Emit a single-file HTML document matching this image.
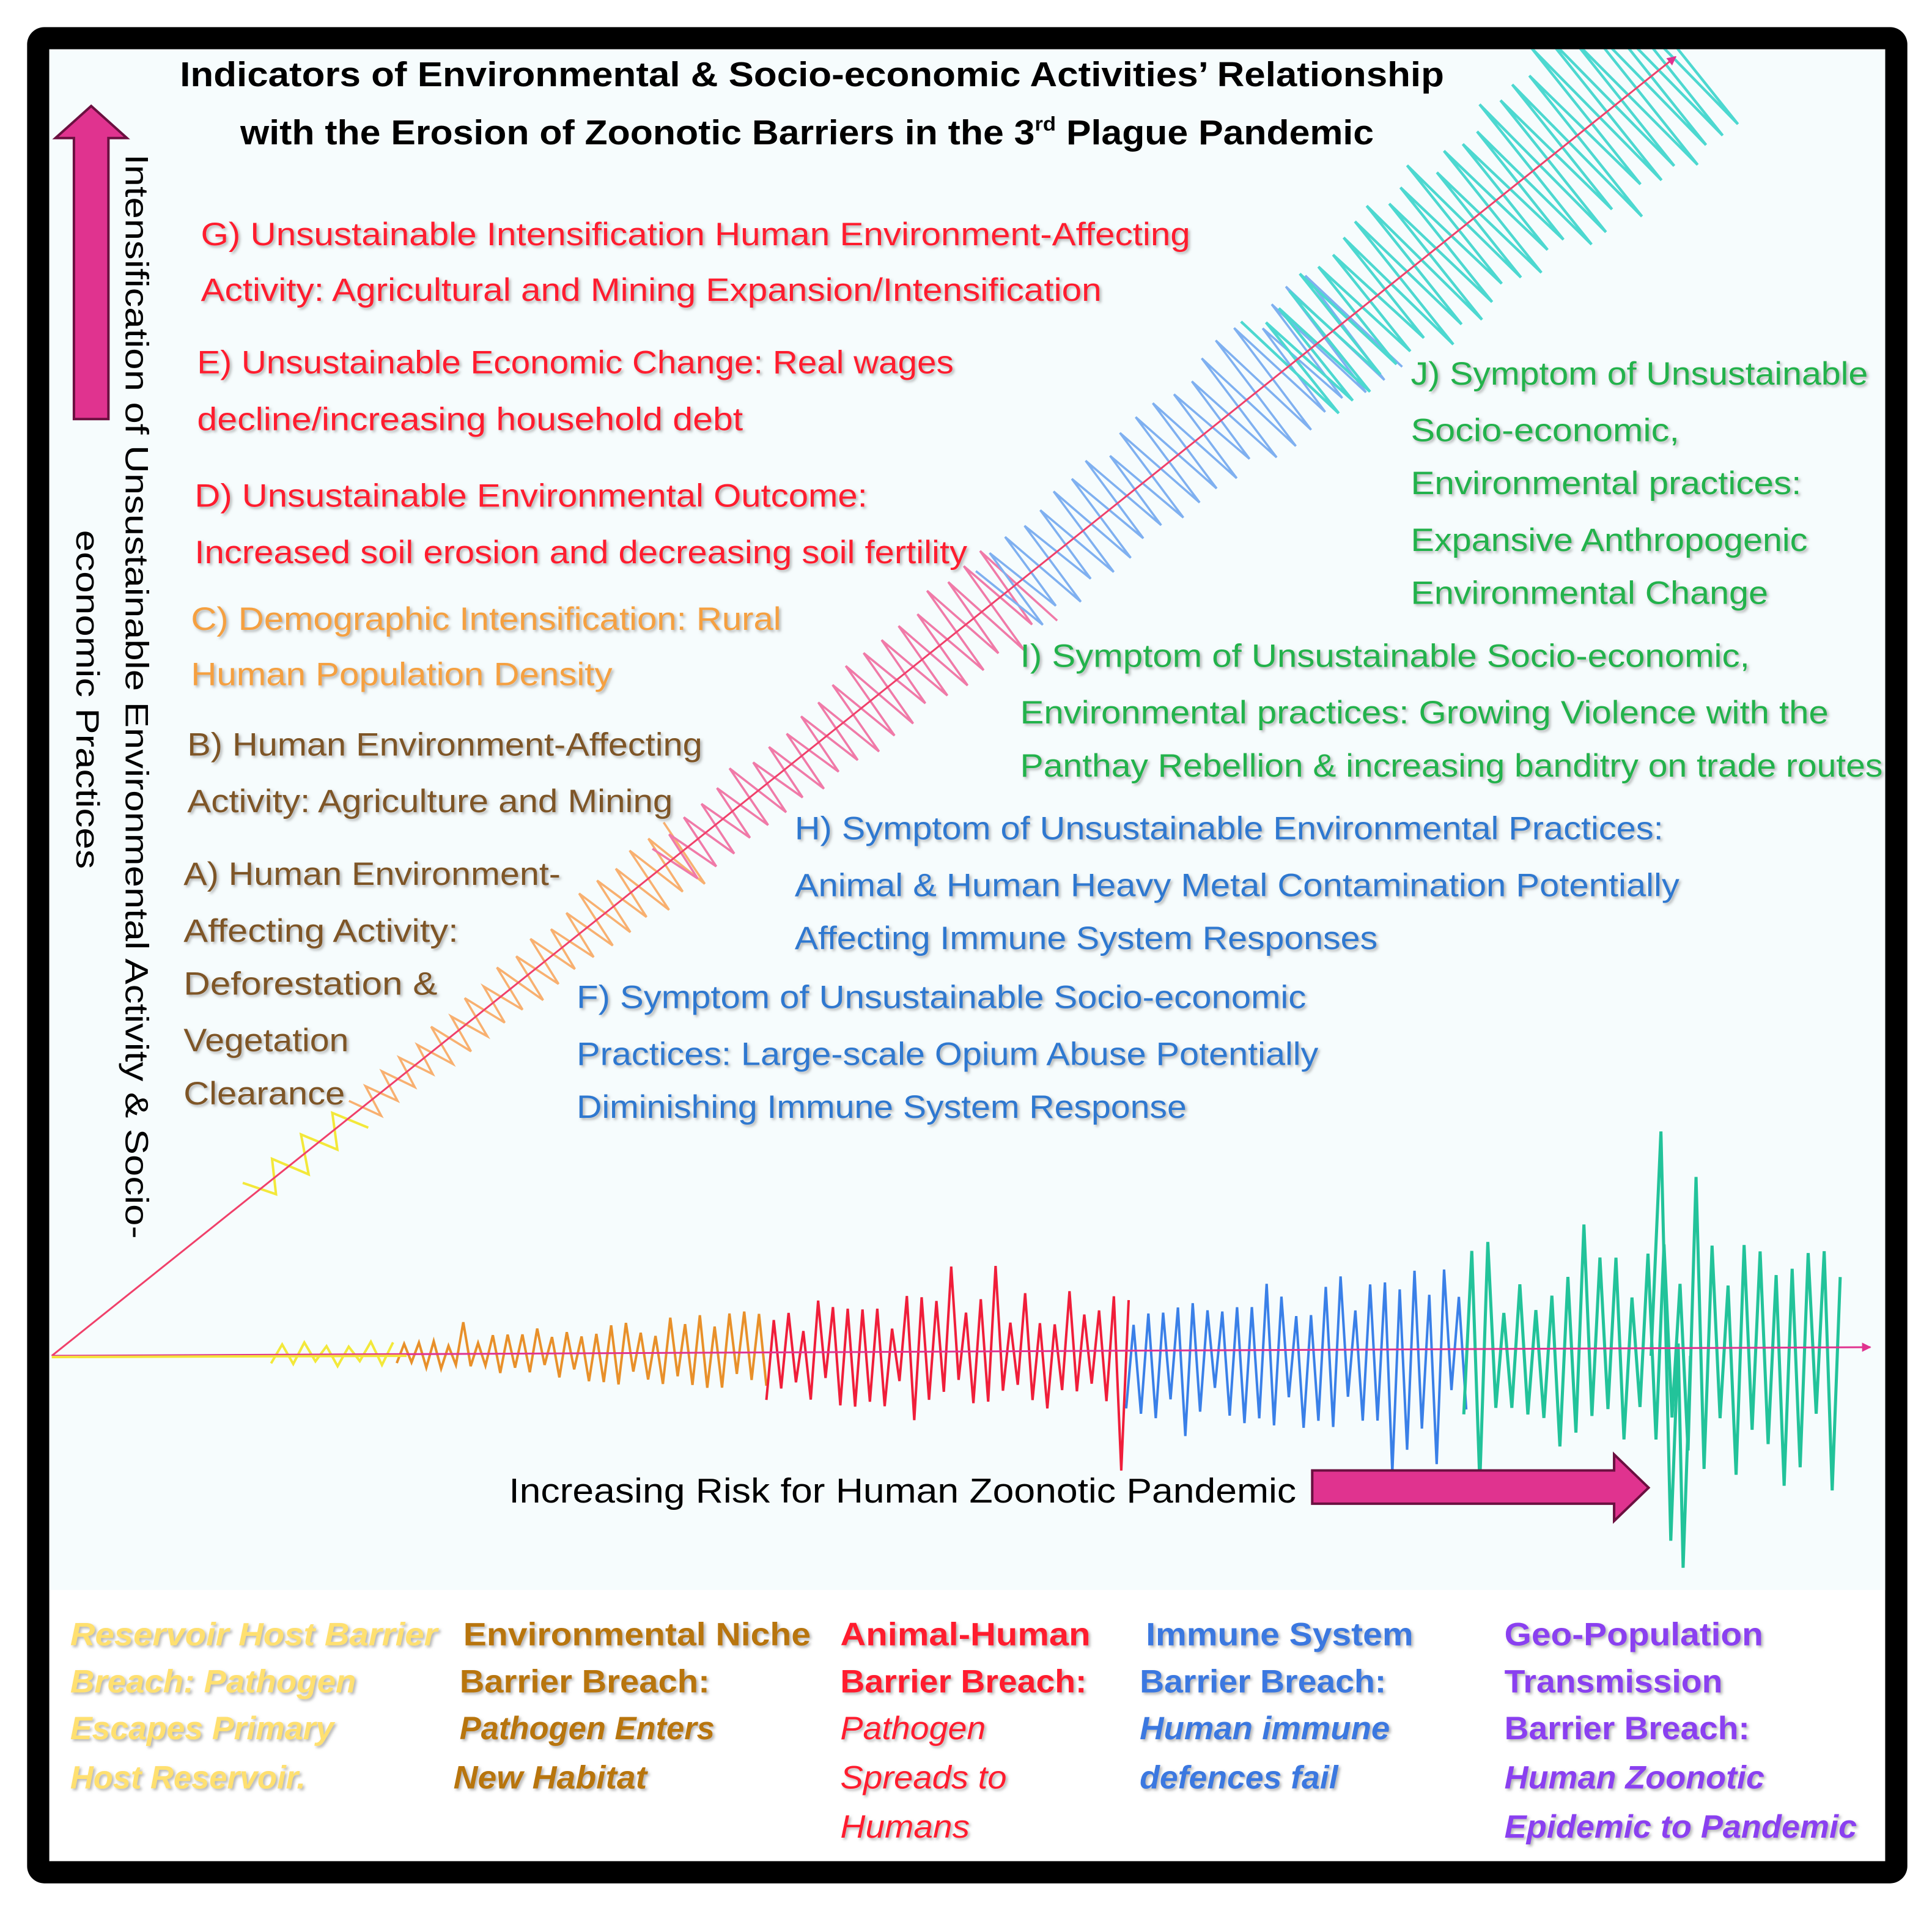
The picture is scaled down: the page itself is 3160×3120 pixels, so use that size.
<!DOCTYPE html>
<html><head><meta charset="utf-8">
<style>
html,body{margin:0;padding:0;background:#fff;}
svg{display:block;}
text{font-family:"Liberation Sans",sans-serif;}
</style></head>
<body>
<svg id="s" xmlns="http://www.w3.org/2000/svg" width="3160" height="3120" viewBox="0 0 1568 1548" preserveAspectRatio="none">
<defs>
<filter id="sh" x="-5%" y="-30%" width="110%" height="160%"><feDropShadow dx="1.5" dy="1.5" stdDeviation="1.2" flood-color="#777" flood-opacity="0.55"/></filter>
<marker id="ah" viewBox="0 0 10 10" refX="9" refY="5" markerWidth="5" markerHeight="5" orient="auto"><path d="M0,0 L10,5 L0,10 z" fill="#e0338f"/></marker>
<clipPath id="cp"><rect x="40" y="40" width="1490" height="1470"/></clipPath>
</defs>
<rect x="22" y="22" width="1526" height="1506" rx="14" fill="#000"/>
<rect x="40" y="40" width="1490" height="1470" fill="#fff"/>
<rect x="40" y="40" width="1490" height="1250" fill="#f6fcfd"/>

<g id="waves" clip-path="url(#cp)"></g>

<line x1="42" y1="1100" x2="1360" y2="46" stroke="#f0406a" stroke-width="1.5" marker-end="url(#ah)"/>
<line x1="42" y1="1100" x2="1518" y2="1093" stroke="#e0338f" stroke-width="1.5" marker-end="url(#ah)"/>
<line x1="42" y1="1101" x2="330" y2="1100" stroke="#f5e23a" stroke-width="2"/>

<text x="146" y="70" font-size="28" font-weight="bold" fill="#000" textLength="1026" lengthAdjust="spacingAndGlyphs">Indicators of Environmental &amp; Socio-economic Activities’ Relationship</text>
<text x="195" y="117" font-size="28" font-weight="bold" fill="#000" textLength="920" lengthAdjust="spacingAndGlyphs">with the Erosion of Zoonotic Barriers in the 3<tspan font-size="16" dy="-11">rd</tspan><tspan dy="11"> Plague Pandemic</tspan></text>

<path d="M60,340 L60,112 L45,112 L74,86 L103,112 L88,112 L88,340 Z" fill="#e0338f" stroke="#6b1040" stroke-width="2"/>
<text transform="translate(102,125) rotate(90)" font-size="26" fill="#000" textLength="880" lengthAdjust="spacingAndGlyphs">Intensification of Unsustainable Environmental Activity &amp; Socio-</text>
<text transform="translate(62,430) rotate(90)" font-size="26" fill="#000" textLength="275" lengthAdjust="spacingAndGlyphs">economic Practices</text>

<g filter="url(#sh)" font-size="26">
<g fill="#ff1a2e">
<text x="163" y="199" textLength="803" lengthAdjust="spacingAndGlyphs">G) Unsustainable Intensification Human Environment-Affecting</text>
<text x="163" y="244" textLength="731" lengthAdjust="spacingAndGlyphs">Activity: Agricultural and Mining Expansion/Intensification</text>
<text x="160" y="303" textLength="614" lengthAdjust="spacingAndGlyphs">E) Unsustainable Economic Change: Real wages</text>
<text x="160" y="349" textLength="443" lengthAdjust="spacingAndGlyphs">decline/increasing household debt</text>
<text x="158" y="411" textLength="546" lengthAdjust="spacingAndGlyphs">D) Unsustainable Environmental Outcome:</text>
<text x="158" y="457" textLength="627" lengthAdjust="spacingAndGlyphs">Increased soil erosion and decreasing soil fertility</text>
</g>
<g fill="#f5a040">
<text x="155" y="511" textLength="479" lengthAdjust="spacingAndGlyphs">C) Demographic Intensification: Rural</text>
<text x="155" y="556" textLength="342" lengthAdjust="spacingAndGlyphs">Human Population Density</text>
</g>
<g fill="#7e5527">
<text x="152" y="613" textLength="418" lengthAdjust="spacingAndGlyphs">B) Human Environment-Affecting</text>
<text x="152" y="659" textLength="394" lengthAdjust="spacingAndGlyphs">Activity: Agriculture and Mining</text>
<text x="149" y="718" textLength="306" lengthAdjust="spacingAndGlyphs">A) Human Environment-</text>
<text x="149" y="764" textLength="223" lengthAdjust="spacingAndGlyphs">Affecting Activity:</text>
<text x="149" y="807" textLength="206" lengthAdjust="spacingAndGlyphs">Deforestation  &amp;</text>
<text x="149" y="853" textLength="134" lengthAdjust="spacingAndGlyphs">Vegetation</text>
<text x="149" y="896" textLength="131" lengthAdjust="spacingAndGlyphs">Clearance</text>
</g>
<g fill="#22b24c">
<text x="1145" y="312" textLength="371" lengthAdjust="spacingAndGlyphs">J) Symptom of Unsustainable</text>
<text x="1145" y="358" textLength="218" lengthAdjust="spacingAndGlyphs">Socio-economic,</text>
<text x="1145" y="401" textLength="317" lengthAdjust="spacingAndGlyphs">Environmental practices:</text>
<text x="1145" y="447" textLength="322" lengthAdjust="spacingAndGlyphs">Expansive Anthropogenic</text>
<text x="1145" y="490" textLength="290" lengthAdjust="spacingAndGlyphs">Environmental Change</text>
<text x="828" y="541" textLength="592" lengthAdjust="spacingAndGlyphs">I) Symptom of Unsustainable Socio-economic,</text>
<text x="828" y="587" textLength="656" lengthAdjust="spacingAndGlyphs">Environmental practices: Growing Violence with the</text>
<text x="828" y="630" textLength="700" lengthAdjust="spacingAndGlyphs">Panthay Rebellion &amp; increasing banditry on trade routes</text>
</g>
<g fill="#2e78d0">
<text x="645" y="681" textLength="705" lengthAdjust="spacingAndGlyphs">H) Symptom of Unsustainable Environmental Practices:</text>
<text x="645" y="727" textLength="718" lengthAdjust="spacingAndGlyphs">Animal &amp; Human Heavy Metal Contamination Potentially</text>
<text x="645" y="770" textLength="473" lengthAdjust="spacingAndGlyphs">Affecting Immune System Responses</text>
<text x="468" y="818" textLength="592" lengthAdjust="spacingAndGlyphs">F) Symptom of Unsustainable Socio-economic</text>
<text x="468" y="864" textLength="602" lengthAdjust="spacingAndGlyphs">Practices: Large-scale Opium Abuse Potentially</text>
<text x="468" y="907" textLength="495" lengthAdjust="spacingAndGlyphs">Diminishing Immune System Response</text>
</g>
</g>

<text x="413" y="1219" font-size="28" fill="#000" textLength="639" lengthAdjust="spacingAndGlyphs">Increasing Risk for Human Zoonotic Pandemic</text>
<path d="M1065,1193 L1310,1193 L1310,1180 L1338,1207 L1310,1234 L1310,1220 L1065,1220 Z" fill="#e0338f" stroke="#6b1040" stroke-width="2"/>

<g font-size="26" filter="url(#sh)">
<g fill="#ffe070" font-style="italic" font-weight="bold">
<text x="57" y="1335" textLength="298" lengthAdjust="spacingAndGlyphs">Reservoir Host Barrier</text>
<text x="57" y="1373" textLength="232" lengthAdjust="spacingAndGlyphs">Breach: Pathogen</text>
<text x="57" y="1411" textLength="214" lengthAdjust="spacingAndGlyphs">Escapes Primary</text>
<text x="57" y="1451" textLength="191" lengthAdjust="spacingAndGlyphs">Host Reservoir.</text>
</g>
<g fill="#b8750f" font-weight="bold">
<text x="376" y="1335" textLength="282" lengthAdjust="spacingAndGlyphs">Environmental Niche</text>
<text x="373" y="1373" textLength="203" lengthAdjust="spacingAndGlyphs">Barrier Breach:</text>
<text x="373" y="1411" font-style="italic" textLength="207" lengthAdjust="spacingAndGlyphs">Pathogen Enters</text>
<text x="368" y="1451" font-style="italic" textLength="157" lengthAdjust="spacingAndGlyphs">New Habitat</text>
</g>
<g fill="#ff1a2e">
<text x="682" y="1335" font-weight="bold" textLength="203" lengthAdjust="spacingAndGlyphs">Animal-Human</text>
<text x="682" y="1373" font-weight="bold" textLength="200" lengthAdjust="spacingAndGlyphs">Barrier Breach:</text>
<text x="682" y="1411" font-style="italic" textLength="118" lengthAdjust="spacingAndGlyphs">Pathogen</text>
<text x="682" y="1451" font-style="italic" textLength="135" lengthAdjust="spacingAndGlyphs">Spreads to</text>
<text x="682" y="1491" font-style="italic" textLength="105" lengthAdjust="spacingAndGlyphs">Humans</text>
</g>
<g fill="#3a78e0" font-weight="bold">
<text x="930" y="1335" textLength="217" lengthAdjust="spacingAndGlyphs">Immune System</text>
<text x="925" y="1373" textLength="200" lengthAdjust="spacingAndGlyphs">Barrier Breach:</text>
<text x="925" y="1411" font-style="italic" textLength="203" lengthAdjust="spacingAndGlyphs">Human immune</text>
<text x="925" y="1451" font-style="italic" textLength="161" lengthAdjust="spacingAndGlyphs">defences fail</text>
</g>
<g fill="#8a3ff0" font-weight="bold">
<text x="1221" y="1335" textLength="210" lengthAdjust="spacingAndGlyphs">Geo-Population</text>
<text x="1221" y="1373" textLength="177" lengthAdjust="spacingAndGlyphs">Transmission</text>
<text x="1221" y="1411" textLength="199" lengthAdjust="spacingAndGlyphs">Barrier Breach:</text>
<text x="1221" y="1451" font-style="italic" textLength="211" lengthAdjust="spacingAndGlyphs">Human Zoonotic</text>
<text x="1221" y="1491" font-style="italic" textLength="286" lengthAdjust="spacingAndGlyphs">Epidemic to Pandemic</text>
</g>
</g>
</svg>
<script>
(function(){
var g=document.getElementById('waves'),NS='http://www.w3.org/2000/svg';
var seed=12345;function rnd(){seed=(seed*1103515245+12345)%2147483648;return seed/2147483648;}
function add(d,c,w){var p=document.createElementNS(NS,'path');p.setAttribute('d',d);p.setAttribute('fill','none');p.setAttribute('stroke',c);p.setAttribute('stroke-width',w);g.appendChild(p);}
var nx=0.624,ny=0.781;
function diag(x0,x1,a0,a1,step,c,w,skew){
 var d='',k=0;
 for(var x=x0;x<=x1;x+=step,k++){
  var t=(x-x0)/(x1-x0),a=(a0+(a1-a0)*t)*(0.8+0.4*rnd());
  var y=1100-0.7997*(x-42),s=(k%2?1:-1);
  var px=x+nx*a*s+(k%2?skew:0),py=y+ny*a*s;
  d+=(k?'L':'M')+px.toFixed(1)+','+py.toFixed(1);
 }
 add(d,c,w);
}
diag(205,300,12,14,12,'#f3e83a',2,0);
diag(290,560,10,26,7,'#f8b070',1.8,5);
diag(540,830,20,38,7,'#f07aa8',1.8,6);
diag(810,1100,30,50,7,'#7fb0f0',1.8,8);
diag(1040,1365,45,75,6,'#4dd8d0',2.2,10);
function hz(x0,x1,a0,a1,step,c,w,spk){
 var d='',k=0;
 for(var x=x0;x<=x1;x+=step,k++){
  var t=(x-x0)/(x1-x0),a=(a0+(a1-a0)*t)*(0.5+0.7*rnd());
  if(spk&&rnd()<spk)a*=1.7;
  var y=1098+(k%2?-a:a);
  d+=(k?'L':'M')+x.toFixed(1)+','+y.toFixed(1);
 }
 add(d,c,w);
}
hz(220,325,8,12,9,'#f3e83a',2,0);
hz(322,627,8,34,6,'#e8902a',2,0.05);
hz(622,918,32,50,6,'#f01e3a',2,0.1);
hz(914,1192,42,60,6,'#3a80e8',2,0.1);
hz(1188,1496,55,100,6.5,'#22c39a',2.5,0.1);
add('M1340,1100 L1348,918 L1356,1250 L1362,1090 L1366,1272 L1372,1100','#22c39a',2.5);
})();
</script>
</body></html>
